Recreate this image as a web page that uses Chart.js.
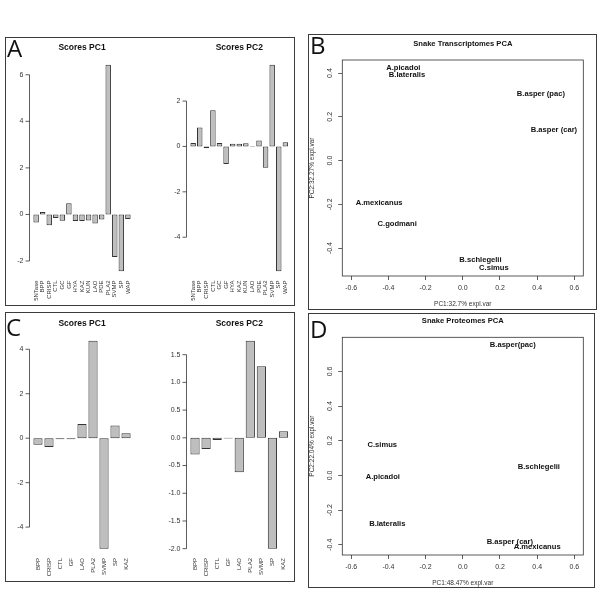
<!DOCTYPE html>
<html>
<head>
<meta charset="utf-8">
<script src="https://cdn.jsdelivr.net/npm/chart.js@4.4.1/dist/chart.umd.min.js"></script>
<style>
  body { margin: 0; background: #fff; width: 600px; height: 600px; position: relative; overflow: hidden; }
  .frame { position: absolute; border: 1.4px solid #3c3c3c; box-sizing: border-box; }
  .tag { position: absolute; font-family: "Open Sans", sans-serif; font-size: 24px; line-height: 24px; color: #111; }
  .box { position: absolute; }
</style>
</head>
<body>
<div class="frame" style="left:5px;top:37px;width:290px;height:269px"></div>
<div class="frame" style="left:308px;top:34px;width:289px;height:276px"></div>
<div class="frame" style="left:5px;top:312px;width:290px;height:270px"></div>
<div class="frame" style="left:308px;top:313px;width:287px;height:275px"></div>

<div class="box" style="left:6px;top:38px;width:144px;height:267px"><canvas id="a1"></canvas></div>
<div class="box" style="left:150px;top:38px;width:144px;height:267px"><canvas id="a2"></canvas></div>
<div class="box" style="left:309px;top:35px;width:287px;height:274px"><canvas id="b"></canvas></div>
<div class="box" style="left:6px;top:313px;width:144px;height:268px"><canvas id="c1"></canvas></div>
<div class="box" style="left:150px;top:313px;width:144px;height:268px"><canvas id="c2"></canvas></div>
<div class="box" style="left:309px;top:314px;width:285px;height:273px"><canvas id="d"></canvas></div>

<div class="tag" style="left:7px;top:36px">A</div>
<div class="tag" style="left:310px;top:33px">B</div>
<div class="tag" style="left:6px;top:315px">C</div>
<div class="tag" style="left:310px;top:317px">D</div>

<script>
// transcriptome scores (panel A)
const transLabels = ['5NTase', 'BPP', 'CRISP', 'CTL', 'GC', 'GF', 'HYA', 'KAZ', 'KUN', 'LAO', 'PDE', 'PLA2', 'SVMP', 'SP', 'WAP'];
const transPC1 = [-0.35, 0.1, -0.46, -0.15, -0.27, 0.48, -0.28, -0.28, -0.26, -0.39, -0.22, 6.43, -1.83, -2.44, -0.2];
const transPC2 = [0.15, 0.83, -0.08, 1.6, 0.15, -0.77, 0.12, 0.12, 0.14, -0.02, 0.26, -0.94, 3.6, -5.5, 0.18];

// proteome scores (panel C)
const protLabels = ['BPP', 'CRISP', 'CTL', 'GF', 'LAO', 'PLA2', 'SVMP', 'SP', 'KAZ'];
const protPC1 = [-0.3, -0.4, -0.05, -0.05, 0.64, 4.38, -4.97, 0.57, 0.22];
const protPC2 = [-0.3, -0.2, -0.04, -0.01, -0.62, 1.75, 1.29, -2.0, 0.12];

// transcriptome PCA (panel B)
const transSnakes = ['A.picadoi', 'B.lateralis', 'B.asper (pac)', 'B.asper (car)', 'A.mexicanus', 'C.godmani', 'B.schlegelii', 'C.simus'];
const transX = [-0.32, -0.30, 0.42, 0.49, -0.45, -0.353, 0.095, 0.167];
const transY = [0.423, 0.39, 0.306, 0.138, -0.194, -0.289, -0.452, -0.491];

// proteome PCA (panel D)
const protSnakes = ['B.asper(pac)', 'C.simus', 'B.schlegelii', 'A.picadoi', 'B.lateralis', 'B.asper (car)', 'A.mexicanus'];
const protX = [0.269, -0.433, 0.409, -0.43, -0.406, 0.253, 0.40];
const protY = [0.75, 0.173, 0.05, -0.008, -0.283, -0.384, -0.413];

const pcaXlim = [-0.6, 0.6];

Chart.defaults.font.family = '"Liberation Sans", Arial, sans-serif';
Chart.defaults.color = '#333';

// R-look extras: titles, axis line between end ticks, rotated y labels, box, point labels
const rStyle = {
  id: 'rStyle',
  afterDraw(chart, args, o) {
    const ctx = chart.ctx, a = chart.chartArea, ys = chart.scales.y;
    ctx.save();
    ctx.fillStyle = '#111';
    ctx.textAlign = 'center';
    ctx.textBaseline = 'middle';
    ctx.font = 'bold ' + o.titleSize + 'px "Liberation Sans", Arial, sans-serif';
    ctx.fillText(o.title, (a.left + a.right) / 2, a.top - o.titleGap);

    ctx.strokeStyle = '#333';
    ctx.lineWidth = 0.8;
    if (o.kind === 'bar') {
      const ax = a.left - o.axisGap;
      const t = ys.ticks;
      ctx.beginPath();
      ctx.moveTo(ax, ys.getPixelForValue(t[0].value));
      ctx.lineTo(ax, ys.getPixelForValue(t[t.length - 1].value));
      t.forEach(tk => {
        const y = ys.getPixelForValue(tk.value);
        ctx.moveTo(ax, y);
        ctx.lineTo(ax - 4, y);
      });
      ctx.stroke();
    } else {
      ctx.strokeRect(a.left, a.top, a.right - a.left, a.bottom - a.top);
      ctx.fillStyle = '#333';
      ctx.font = '7px "Liberation Sans", Arial, sans-serif';
      ys.ticks.forEach(tk => {
        ctx.save();
        ctx.translate(a.left - 12.3, ys.getPixelForValue(tk.value));
        ctx.rotate(-Math.PI / 2);
        ctx.fillText(tk.value.toFixed(1), 0, 0);
        ctx.restore();
      });
      ctx.fillStyle = '#111';
      ctx.font = 'bold 7.6px "Liberation Sans", Arial, sans-serif';
      chart.getDatasetMeta(0).data.forEach((pt, i) => {
        ctx.fillText(o.names[i], pt.x, pt.y);
      });
    }
    ctx.restore();
  }
};

function rRange(vals, withZero) {
  let lo = Math.min(...vals), hi = Math.max(...vals);
  if (withZero) { lo = Math.min(0, lo); hi = Math.max(0, hi); }
  const pad = 0.04 * (hi - lo);
  return [lo - pad, hi + pad];
}

// region = R plot region inside the canvas (l, t, r, b)
function barChart(id, cw, ch, region, labels, values, step, digits, title) {
  const n = labels.length;
  const span = 1.2 * n - 0.2, ext = 0.04 * span;
  const px = (region.r - region.l) / (span + 2 * ext);
  const gap = (ext - 0.1) * px;
  const areaL = region.l + gap;
  const areaR = region.r - gap;
  const [lo, hi] = rRange(values, true);
  new Chart(document.getElementById(id), {
    type: 'bar',
    data: {
      labels: labels,
      datasets: [{
        data: values,
        backgroundColor: '#bebebe',
        borderColor: '#333',
        borderWidth: 1,
        borderSkipped: false,
        categoryPercentage: 1,
        barPercentage: 1 / 1.2
      }]
    },
    options: {
      responsive: true,
      maintainAspectRatio: false,
      animation: false,
      layout: { padding: { left: 0, top: region.t, right: cw - areaR, bottom: 0 } },
      scales: {
        x: {
          grid: { display: false, drawTicks: false },
          border: { display: false },
          ticks: { autoSkip: false, minRotation: 90, maxRotation: 90, padding: 1, color: '#333', font: { size: 6 } },
          afterFit: s => { s.height = ch - region.b; }
        },
        y: {
          min: lo, max: hi,
          grid: { display: false, drawTicks: false },
          border: { display: false },
          ticks: { stepSize: step, includeBounds: false, padding: gap + 6, color: '#333', font: { size: 7 }, callback: v => v.toFixed(digits) },
          afterFit: s => { s.width = areaL; }
        }
      },
      plugins: {
        legend: { display: false },
        tooltip: { enabled: false },
        rStyle: { kind: 'bar', title: title, titleSize: 8.5, titleGap: 8.5, axisGap: gap }
      }
    },
    plugins: [rStyle]
  });
}

function pcaChart(id, cw, ch, area, xs, ys, names, title, xTitle, yTitle, xTitlePad) {
  const [ylo, yhi] = rRange(ys, false);
  const [xlo, xhi] = rRange(pcaXlim, false);
  const grid = { drawOnChartArea: false, drawTicks: true, tickLength: 4, color: '#333', lineWidth: 0.8 };
  new Chart(document.getElementById(id), {
    type: 'scatter',
    data: { datasets: [{ data: xs.map((x, i) => ({ x: x, y: ys[i] })), pointRadius: 0, pointHoverRadius: 0 }] },
    options: {
      responsive: true,
      maintainAspectRatio: false,
      animation: false,
      layout: { padding: { left: 0, top: area.t, right: cw - area.r, bottom: 0 } },
      scales: {
        x: {
          min: xlo, max: xhi,
          grid: grid,
          border: { display: false },
          ticks: { stepSize: 0.2, includeBounds: false, padding: 3.8, color: '#333', font: { size: 7 }, callback: v => v.toFixed(1) },
          title: { display: true, text: xTitle, color: '#333', font: { size: 6.5, lineHeight: 1 }, padding: { top: 0, bottom: xTitlePad } },
          afterFit: s => { s.height = ch - area.b; }
        },
        y: {
          min: ylo, max: yhi,
          grid: grid,
          border: { display: false },
          ticks: { display: false, stepSize: 0.2, includeBounds: false },
          title: { display: true, text: yTitle, color: '#333', font: { size: 6.5, lineHeight: 1 }, padding: 0 },
          afterFit: s => { s.width = area.l; }
        }
      },
      plugins: {
        legend: { display: false },
        tooltip: { enabled: false },
        rStyle: { kind: 'pca', title: title, titleSize: 7.6, titleGap: 16.5, names: names }
      }
    },
    plugins: [rStyle]
  });
}

barChart('a1', 144, 267, { l: 23.5, t: 18.5, r: 128.5, b: 241.5 }, transLabels, transPC1, 2, 0, 'Scores PC1');
barChart('a2', 144, 267, { l: 36.5, t: 18.5, r: 142, b: 241.5 }, transLabels, transPC2, 2, 0, 'Scores PC2');
barChart('c1', 144, 268, { l: 23.5, t: 19.5, r: 128.5, b: 244 }, protLabels, protPC1, 2, 0, 'Scores PC1');
barChart('c2', 144, 268, { l: 36.5, t: 19.5, r: 142, b: 244 }, protLabels, protPC2, 0.5, 1, 'Scores PC2');

pcaChart('b', 287, 274, { l: 33.3, t: 25, r: 274.3, b: 241 }, transX, transY, transSnakes,
  'Snake Transcriptomes PCA', 'PC1:32.7% expl.var', 'PC2:32.27% expl.var', 1.75);
pcaChart('d', 285, 273, { l: 33.3, t: 23.3, r: 274.3, b: 241 }, protX, protY, protSnakes,
  'Snake Proteomes PCA', 'PC1:48.47% expl.var', 'PC2:22.04% expl.var', 0.5);
</script>
</body>
</html>
